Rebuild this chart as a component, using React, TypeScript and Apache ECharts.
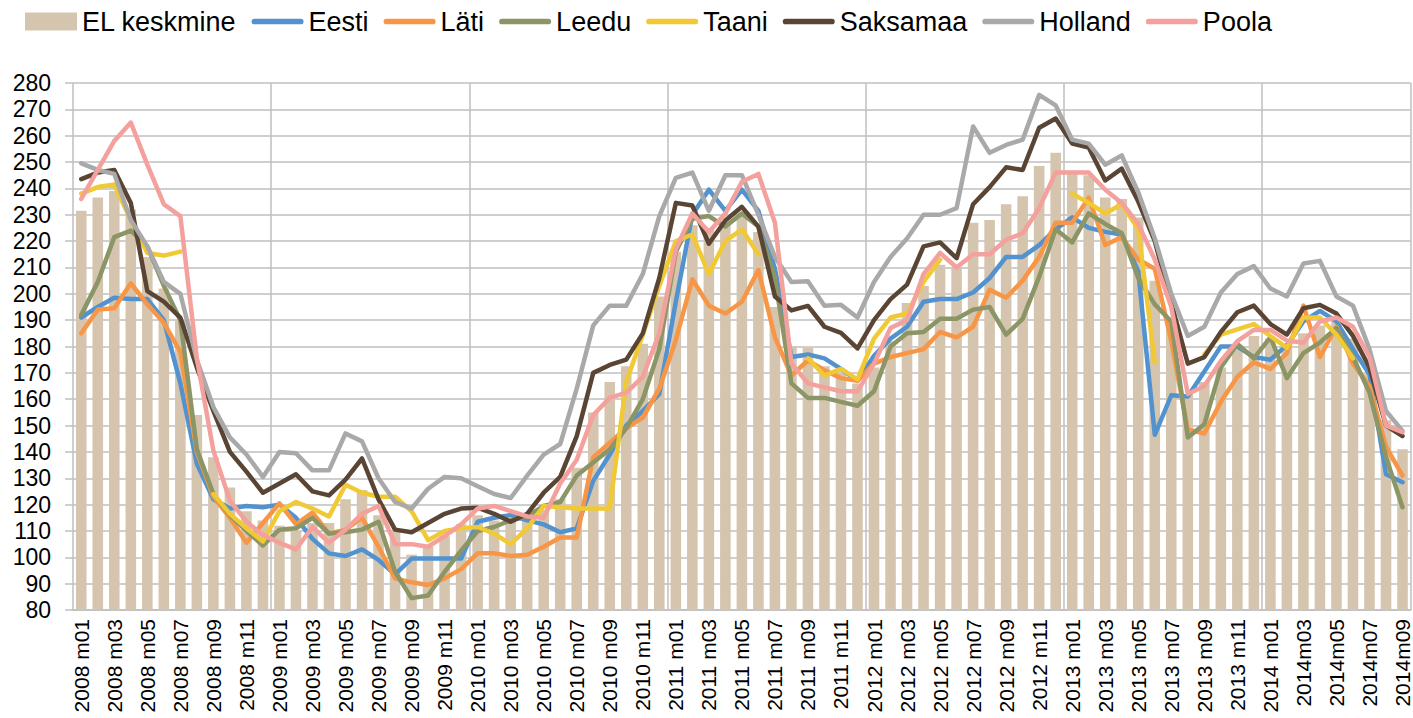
import React, { useEffect, useRef } from "react";
import * as echarts from "echarts";

const categories: string[] = [
  "2008 m01","2008 m02","2008 m03","2008 m04","2008 m05","2008 m06","2008 m07","2008 m08","2008 m09","2008 m10","2008 m11","2008 m12",
  "2009 m01","2009 m02","2009 m03","2009 m04","2009 m05","2009 m06","2009 m07","2009 m08","2009 m09","2009 m10","2009 m11","2009 m12",
  "2010 m01","2010 m02","2010 m03","2010 m04","2010 m05","2010 m06","2010 m07","2010 m08","2010 m09","2010 m10","2010 m11","2010 m12",
  "2011 m01","2011 m02","2011 m03","2011 m04","2011 m05","2011 m06","2011 m07","2011 m08","2011 m09","2011 m10","2011 m11","2011 m12",
  "2012 m01","2012 m02","2012 m03","2012 m04","2012 m05","2012 m06","2012 m07","2012 m08","2012 m09","2012 m10","2012 m11","2012 m12",
  "2013 m01","2013 m02","2013 m03","2013 m04","2013 m05","2013 m06","2013 m07","2013 m08","2013 m09","2013 m10","2013 m11","2013 m12",
  "2014 m01","2014m02","2014m03","2014m04","2014m05","2014m06","2014m07","2014m08","2014m09",
];

const elKeskmine: number[] = [
  231.5,236.5,239,232,214,202,190,154,138,126.5,117.5,114,
  112,110,113,113,122,125.5,116,110.5,101,104,108,112.5,
  116,114,115,116,118,122,134,155,166.5,172.5,181,199,
  216,226,225,227,230.5,223.5,195,180,179.5,172.5,170,166,
  172,182,196.5,203,211,210,227,228,234,237,248.5,253.5,
  245.5,245,236.5,236,229,205,190,162,166.5,172,179,184,
  183,180,185,188,190,183,170,152,141,
];

const eesti: number[] = [
  191,195,198.5,198,198,190,166,135.5,122,118.5,119.5,119,
  120,115,107,101.5,100.5,103,99,93.5,99.5,99.5,99.5,99.5,
  113.5,115,116,114,112.5,109.5,111,129,139,150,155.5,162,
  197,230,239.5,231.5,239.5,231.5,209.5,176,177,175.5,171.5,167,
  176.5,183,187.5,197,198,198,200.5,206,214,214,218.5,224.5,
  229,225,223.5,222.5,208.5,146.5,161.5,161,170.5,180,180,176,
  175,180.5,189.5,193.5,189.5,179,169.5,131.5,128.5,
];

const lati: number[] = [
  185,194,194.5,204,196,189,178,140,123,115,105.5,113,
  120.5,112.5,117,109,110.5,115,104,92,90.5,89.5,92,95.5,
  101.5,101.5,100.5,101,104,107.5,107.5,138,143.5,149,153,164,
  182.5,205.5,195.5,192.5,197,209,183.5,169,174.7,171,168,167,
  173.5,176,177.5,179,185.5,183.5,187.5,201.5,198.5,205,214,227,
  227,236.5,218.5,221.5,213,209.5,182,148.5,147,159,168.5,174,
  171.5,177.5,195.5,176,187.5,173.5,165,142,131,
];

const leedu: number[] = [
  192,204.5,221.5,224,218,203,190,141,124,116,110,104.5,
  110.5,111,115,109,109.5,110.5,113.5,94.5,84.5,85.5,94.5,102.5,
  110,111.5,114,115.5,119.5,121,131,136,141,149,160,179,
  216,228.5,229.5,225.5,230.5,225.5,206,166,160.5,160.5,159,157.5,
  163,180,185,185.5,190.5,190.5,194,195,184.5,190.5,206.5,224.5,
  219.5,230.5,226.5,223,206,196,189.5,145.5,150.5,172,181,175.5,
  183.5,168,177.5,181.5,187,176,162.5,138,119,
];

const taani: (number | null)[] = [
  238,240.5,241.5,228,215.5,214.5,216,null,124,116.5,111,106,
  117.5,121,118.5,115.5,127.5,124.5,123,123,117.5,106.5,110,111,
  111.5,109,105,111,119.5,119,118.5,118.5,118.5,166.5,184.5,203,
  220,222.5,207.5,220,224.5,215,null,null,175.5,169,171.5,167.5,
  183,191,192.5,204.5,213,null,null,null,null,null,null,null,
  238,234.5,230.5,234,224.5,174,null,null,177,184.5,186.5,188.5,
  184,179.5,191,191,184.5,175.5,null,null,null,
];

const saksamaa: number[] = [
  243.5,246,247,234.5,201,197,191,172,155.5,140,132.5,124.5,
  128,131.5,125,123.5,129.5,137.5,122,110.5,109.5,113,116.5,118.5,
  118.8,116.5,113.5,116.5,124.5,130.5,146,170,173,175,185,206,
  234.5,233.5,219,227.8,233,225.5,199,193.7,195.4,187.5,185.2,179.3,
  190,198,203.5,218,219.5,213.5,234,240.5,248,247,263,266.5,
  257,255.5,243,247.5,235,220,196.5,173.5,176,185.5,193,195.5,
  188.5,184.5,194.5,195.8,192.5,184,172,150,146,
];

const holland: number[] = [
  249.5,247,245.5,228,218,204.5,200,175,157,145.5,139,130.5,
  140,139.5,133,133,147,144,130,121,118.5,126,130.5,130,
  127,124,122.5,131,139,143,164,188,195.5,195.5,207.5,229.5,
  244,246,231.5,245,245,230,214,204.5,204.8,195.5,195.8,191,
  204.5,214,221,230,230,232.5,263.5,253.5,256.5,258.5,275.5,271.5,
  258.5,257,249,252.5,238.5,221,200,184,187.5,200.5,207.5,210.5,
  202,199,211.5,212.5,199,195.5,179,155.5,148,
];

const poola: number[] = [
  236,247,258,265,249,234,229.5,175.5,140.5,121.5,113.5,108.5,
  105.5,103,111.5,105.5,110.5,116.5,119.5,105,105,104,108,112.5,
  118.5,119.5,117.5,115.5,115,128,137,154,160.5,162.5,168.5,185,
  217,230.5,223.5,230.5,242.5,245.5,227,173.5,166,164.5,163,163,
  173.5,187,190,207.5,215.5,210,215,215,220.5,223,232.5,246,
  246,246,239.5,234.5,226.5,213,195,162,165,174.5,182,186.3,
  186.3,182.2,181.5,189.5,191,187.5,176,150,147.5,
];

const yTicks = { min: 80, max: 280, interval: 10 };

const FONT = "'Liberation Sans', Arial, sans-serif";

const lineDefs: { name: string; data: (number | null)[]; color: string }[] = [
  { name: "Eesti", data: eesti, color: "#5192cf" },
  { name: "Läti", data: lati, color: "#f79646" },
  { name: "Leedu", data: leedu, color: "#8b9566" },
  { name: "Taani", data: taani, color: "#f0c935" },
  { name: "Saksamaa", data: saksamaa, color: "#5a4534" },
  { name: "Holland", data: holland, color: "#a9a9a9" },
  { name: "Poola", data: poola, color: "#f4a09c" },
];

const LINE_ICON = "path://M3,0 H52 A3,3 0 0 1 52,6 H3 A3,3 0 0 1 3,0 Z";

export default function App() {
  const ref = useRef<HTMLDivElement>(null);
  useEffect(() => {
    document.body.style.margin = "0";
    if (!ref.current) return;
    const chart = echarts.init(ref.current, undefined, { renderer: "svg" });
    const series: any[] = [
      {
        name: "EL keskmine",
        type: "bar",
        data: elKeskmine,
        barWidth: "64%",
        itemStyle: { color: "#d5c5ae" },
        z: 1,
      },
      ...lineDefs.map((d, i) => ({
        name: d.name,
        type: "line",
        data: d.data,
        symbol: "none",
        showSymbol: false,
        connectNulls: false,
        lineStyle: { color: d.color, width: 4.5, cap: "round", join: "round" },
        itemStyle: { color: d.color },
        z: 2 + i,
      })),
    ];
    chart.setOption({
      animation: false,
      backgroundColor: "#ffffff",
      textStyle: { fontFamily: FONT },
      legend: {
        left: 20,
        top: 3,
        itemWidth: 52,
        itemHeight: 18,
        itemGap: 15,
        symbolKeepAspect: true,
        textStyle: { fontSize: 27, color: "#000", fontFamily: FONT },
        data: [
          { name: "EL keskmine", icon: "rect" },
          ...lineDefs.map((d) => ({ name: d.name, icon: LINE_ICON })),
        ],
      },
      grid: { left: 73, right: 0, top: 83, bottom: 108, containLabel: false },
      xAxis: {
        type: "category",
        data: categories,
        boundaryGap: true,
        axisLine: { show: true, lineStyle: { color: "#bfbfbf", width: 1.5 } },
        axisTick: { show: false },
        axisLabel: {
          interval: 1,
          rotate: 90,
          fontSize: 21,
          color: "#000",
          fontFamily: FONT,
          margin: 9,
        },
        splitLine: {
          show: true,
          interval: (index: number) => index % 12 === 0,
          lineStyle: { color: "#bfbfbf", width: 1.5 },
        },
      },
      yAxis: {
        type: "value",
        min: yTicks.min,
        max: yTicks.max,
        interval: yTicks.interval,
        axisLine: { show: false },
        axisTick: { show: true, length: 8, lineStyle: { color: "#bfbfbf", width: 1.5 } },
        axisLabel: { fontSize: 23, color: "#000", fontFamily: FONT, margin: 22 },
        splitLine: { show: true, lineStyle: { color: "#bfbfbf", width: 1.5 } },
      },
      series,
    });
    return () => chart.dispose();
  }, []);
  return <div ref={ref} style={{ width: 1413, height: 718 }} />;
}
